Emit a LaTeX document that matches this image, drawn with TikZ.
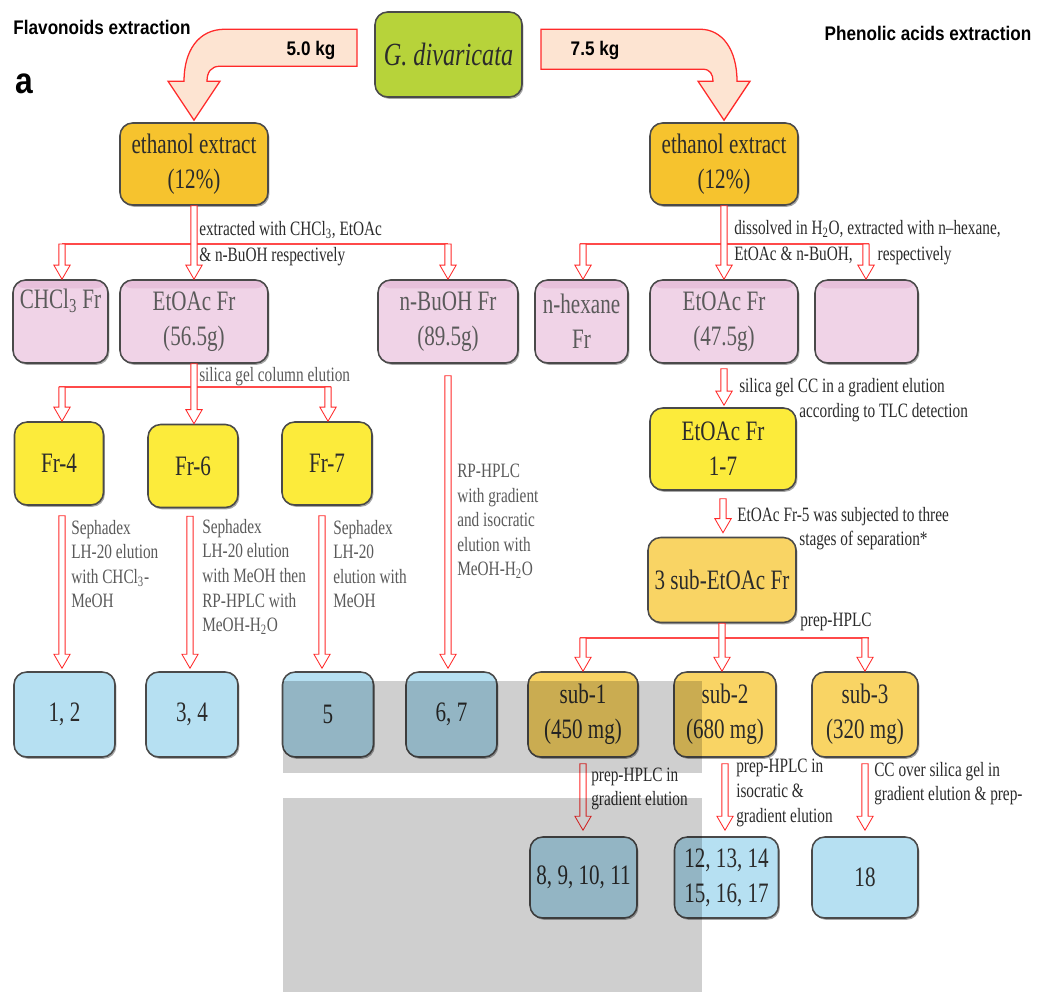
\documentclass[tikz,border=0pt]{standalone}
\usepackage{fontspec}
\setmainfont[FakeStretch=0.75]{Liberation Serif}
\newfontfamily\sanshead[FakeStretch=0.87]{Liberation Sans}
\usetikzlibrary{calc,shadows}
\definecolor{boxedge}{HTML}{4A4A4A}
\definecolor{gdivgreen}{HTML}{B7D33A}
\definecolor{ethgold}{HTML}{F6C32E}
\definecolor{pinkfill}{HTML}{F0D3E7}
\definecolor{pinktop}{HTML}{E7C0DB}
\definecolor{fryellow}{HTML}{FCEB3B}
\definecolor{subgold}{HTML}{F9D464}
\definecolor{cpdblue}{HTML}{B6E0F2}
\definecolor{arrred}{HTML}{FF2A2A}
\definecolor{arrfill}{HTML}{FDE4D2}
\definecolor{txtdark}{HTML}{2B2B2B}
\definecolor{txtgray}{HTML}{5A5A5A}
\newcommand\boxtext{\fontsize{20}{25}\selectfont}
\newcommand\notetext{\fontsize{14.5}{17.5}\selectfont}
\tikzset{
  box/.style={draw=boxedge, line width=1.1pt, rounded corners=9pt, align=center,
    inner sep=2pt, font=\boxtext, text=txtdark,
    drop shadow={shadow xshift=1pt, shadow yshift=-1.3pt, opacity=0.35, fill=black}},
  sz/.style 2 args={minimum width=#1*0.025cm, minimum height=#2*0.025cm},
  gbox/.style={box, fill=gdivgreen},
  ebox/.style={box, fill=ethgold},
  pbox/.style={box, fill=pinkfill, text=txtgray,
    path picture={\fill[pinktop] (path picture bounding box.north west)
      rectangle ([yshift=-6pt]path picture bounding box.north east);}},
  ybox/.style={box, fill=fryellow},
  sbox/.style={box, fill=subgold},
  bbox/.style={box, fill=cpdblue},
  note/.style={anchor=west, align=left, font=\notetext, text=txtdark, inner sep=0pt},
  greynote/.style={note, text=txtgray},
  split/.style={draw=arrred!85, line width=1.2pt},
  harrow/.style={draw=arrred, fill=white, line width=0.6pt, line join=miter,
    to path={let \p1=(\tikztostart), \p2=(\tikztotarget) in
      (\x1-2.2pt,\y1) -- (\x1-2.2pt,\y2+10pt) -- (\x1-5.8pt,\y2+10pt) -- (\x1,\y2)
      -- (\x1+5.8pt,\y2+10pt) -- (\x1+2.2pt,\y2+10pt) -- (\x1+2.2pt,\y1) -- cycle}},
  bigarrow/.style={draw=arrred, fill=arrfill, line width=0.9pt},
  head/.style={font=\sanshead\bfseries\fontsize{14}{16}\selectfont, text=black, inner sep=0pt}
}

\begin{document}
\begin{tikzpicture}[x=0.025cm, y=-0.025cm]
  \useasboundingbox (0,0) rectangle (1037,992);

  % titles
  \node[head] (tflav) at (102,27) {Flavonoids extraction};
  \node[head] (tphen) at (928,33) {Phenolic acids extraction};
  \node[head, font=\sanshead\bfseries\fontsize{26}{28}\selectfont] (tpart) at (24,84) {a};

  % plant
  \node[gbox, sz={147}{85}] (gdiv) at (448.5,54.5) {\fontsize{23}{28}\selectfont\itshape G. divaricata};

  % flavonoids side
  \node[ebox, sz={148}{82}] (eth1) at (194,164) {ethanol extract\\(12\%)};
  \node[pbox, sz={95}{83}] (chcl) at (60.5,321.5) {CHCl\textsubscript{3} Fr\\\strut};
  \node[pbox, sz={148}{83}] (etoac1) at (194,321.5) {EtOAc Fr\\(56.5g)};
  \node[pbox, sz={140}{83}] (buoh) at (448,321.5) {n-BuOH Fr\\(89.5g)};
  \node[ybox, sz={89}{83}] (fr4) at (59,463.5) {Fr-4};
  \node[ybox, sz={90}{83}] (fr6) at (193,466) {Fr-6};
  \node[ybox, sz={90}{83}] (fr7) at (327,463.5) {Fr-7};
  \node[bbox, sz={101}{85}] (c12) at (64.5,714.5) {1, 2};
  \node[bbox, sz={92}{85}] (c34) at (192,714.5) {3, 4};
  \node[bbox, sz={91}{85}] (c5) at (328,714.5) {5};
  \node[bbox, sz={91}{85}] (c67) at (451.5,714.5) {6, 7};

  % phenolic acids side
  \node[ebox, sz={148}{82}] (eth2) at (724,164) {ethanol extract\\(12\%)};
  \node[pbox, sz={93}{83}] (hex) at (581.5,321.5) {n-hexane\\Fr};
  \node[pbox, sz={148}{83}] (etoac2) at (724,321.5) {EtOAc Fr\\(47.5g)};
  \node[pbox, sz={103}{83}] (blank) at (866.5,321.5) {};
  \node[ybox, sz={146}{82}] (fr17) at (723,449) {EtOAc Fr\\1-7};
  \node[sbox, sz={148}{85}] (sub) at (722,580) {3 sub-EtOAc Fr};
  \node[sbox, sz={110}{85}] (s1) at (583,714.5) {sub-1\\(450 mg)};
  \node[sbox, sz={102}{85}] (s2) at (725,714.5) {sub-2\\(680 mg)};
  \node[sbox, sz={106}{85}] (s3) at (865,714.5) {sub-3\\(320 mg)};
  \node[bbox, sz={107}{81}] (c811) at (583.5,877.5) {8, 9, 10, 11};
  \node[bbox, sz={104}{81}] (c1217) at (726.5,877.5) {12, 13, 14\\15, 16, 17};
  \node[bbox, sz={106}{81}] (c18) at (865,877.5) {18};

  % big arrows from the plant
  \begin{scope}[shift={(eth1.north)}]
    \draw[bigarrow] (163,-93) -- (31,-93) .. controls (4,-93) and (-10,-71) .. (-10,-41)
      -- (-26,-41) -- (0,-2) -- (26,-41) -- (13,-41)
      .. controls (13,-50) and (17,-56) .. (26,-56) -- (163,-56) -- cycle;
  \end{scope}
  \begin{scope}[shift={(eth2.north)}]
    \draw[bigarrow] (-183,-93) -- (-24,-93) .. controls (-2,-93) and (13,-73) .. (13,-41)
      -- (26,-41) -- (0,-2) -- (-26,-41) -- (-11,-41)
      .. controls (-11,-48) and (-14,-53) .. (-21,-53) -- (-183,-53) -- cycle;
  \end{scope}
  \node[head] (kg5) at (311,50) {5.0 kg};
  \node[head] (kg7) at (595,50) {7.5 kg};

  % junctions
  \coordinate (jl1) at (62,244);
  \coordinate (jl3) at (448,244);
  \coordinate (jl4) at (62,387);
  \coordinate (jl5) at (328,387);
  \coordinate (jr1) at (583,244);
  \coordinate (jr3) at (866,244);
  \coordinate (jr4) at (583,638);
  \coordinate (jr5) at (865,638);

  \draw[split] (jl1) -- (jl3);
  \draw[split] ([xshift=-2pt]jl4) -- ([xshift=2pt]jl5);
  \draw[split] ([xshift=-2pt]jr1) -- ([xshift=2pt]jr3);
  \draw[split] ([xshift=-2pt]jr4) -- ([xshift=3pt]jr5);

  % flavonoids arrows
  \draw[harrow] (eth1.south) to (etoac1.north);
  \draw[harrow] (jl1) to (chcl.north);
  \draw[harrow] (jl3) to (buoh.north);
  \draw[harrow] (etoac1.south) to (fr6.north);
  \draw[harrow] (jl4) to (fr4.north);
  \draw[harrow] (jl5) to (fr7.north);
  \draw[harrow] ($(fr4.south)+(3,10)$) to ($(c12.north)+(0,-3)$);
  \draw[harrow] ($(fr6.south)+(-3,8)$) to ($(c34.north)+(0,-3)$);
  \draw[harrow] ($(fr7.south)+(-5,10)$) to ($(c5.north)+(0,-3)$);
  \draw[harrow] ($(buoh.south)+(0,12)$) to ($(c67.north)+(0,-3)$);

  % phenolic acids arrows
  \draw[harrow] (eth2.south) to (etoac2.north);
  \draw[harrow] (jr1) to (hex.north);
  \draw[harrow] (jr3) to (blank.north);
  \draw[harrow] ($(etoac2.south)+(0,5)$) to ($(fr17.north)+(0,-2)$);
  \draw[harrow] ($(fr17.south)+(0,8)$) to ($(sub.north)+(0,-4)$);
  \draw[harrow] (sub.south) to (s2.north);
  \draw[harrow] (jr4) to (s1.north);
  \draw[harrow] (jr5) to (s3.north);
  \draw[harrow] ($(s1.south)+(0,6)$) to ($(c811.north)+(0,-6)$);
  \draw[harrow] ($(s2.south)+(0,6)$) to ($(c1217.north)+(0,-6)$);
  \draw[harrow] ($(s3.south)+(0,6)$) to ($(c18.north)+(0,-6)$);

  % step notes
  \node[note, font=\fontsize{14.5}{19}\selectfont] (n1) at (199,243.5) {extracted with CHCl\textsubscript{3}, EtOAc\\\& n-BuOH respectively};
  \node[greynote] (n2) at (199,377) {silica gel column elution};
  \node[greynote] (n3) at (71,564) {Sephadex\\LH-20 elution\\with CHCl\textsubscript{3}-\\MeOH};
  \node[greynote] (n4) at (202,577) {Sephadex\\LH-20 elution\\with MeOH then\\RP-HPLC with\\MeOH-H\textsubscript{2}O};
  \node[greynote] (n5) at (333,564) {Sephadex\\LH-20\\elution with\\MeOH};
  \node[greynote] (n6) at (457,521.5) {RP-HPLC\\with gradient\\and isocratic\\elution with\\MeOH-H\textsubscript{2}O};
  \node[note, font=\fontsize{14.5}{19}\selectfont] (n7) at (734,242.5) {dissolved in H\textsubscript{2}O, extracted with n--hexane,\\EtOAc \& n-BuOH,\hspace{15pt} respectively};
  \node[note] (n8) at (739,400) {silica gel CC in a gradient elution\\\hspace*{1.5cm}according to TLC detection};
  \node[note] (n9) at (737,528.5) {EtOAc Fr-5 was subjected to three\\\hspace*{1.55cm}stages of separation*};
  \node[note] (n10) at (800,622) {prep-HPLC};
  \node[note] (n11) at (591,789) {prep-HPLC in\\gradient elution};
  \node[note] (n12) at (736,793) {prep-HPLC in\\isocratic \&\\gradient elution};
  \node[note] (n13) at (874,783.5) {CC over silica gel in\\gradient elution \& prep-};

  % grey blocks over the lower middle
  \fill[black, opacity=0.19] (283,681) rectangle (702,773);
  \fill[black, opacity=0.19] (283,798) rectangle (702,992);
\end{tikzpicture}
\end{document}
